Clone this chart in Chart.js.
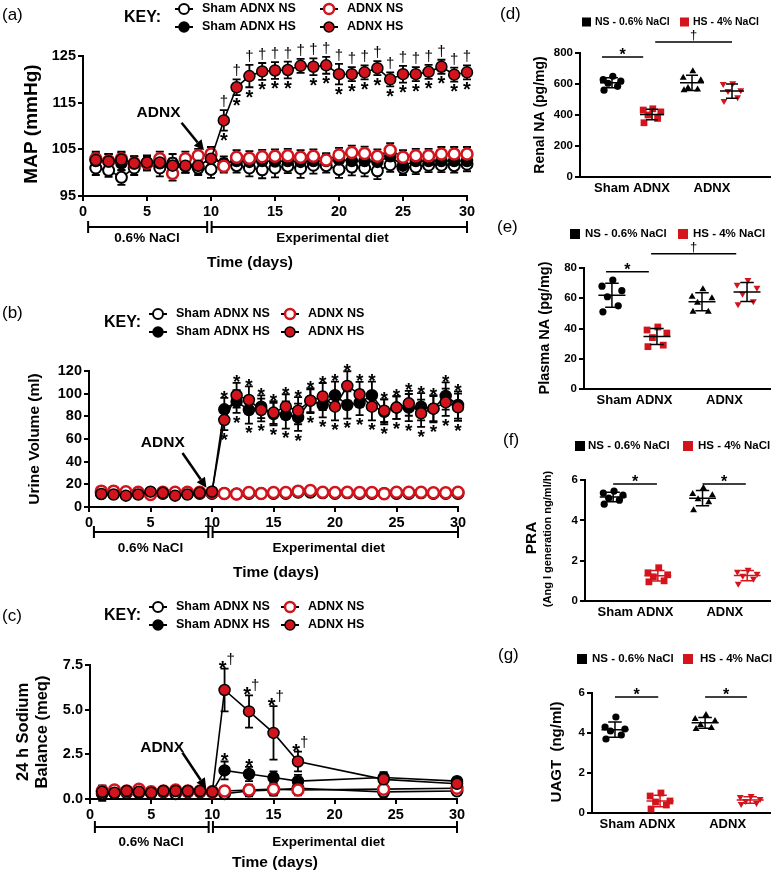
<!DOCTYPE html>
<html>
<head>
<meta charset="utf-8">
<script src="https://cdn.jsdelivr.net/npm/chart.js@4.4.0/dist/chart.umd.min.js"></script>
<style>
body { margin: 0; background: #fff; }
#wrap { position: relative; width: 775px; height: 880px; overflow: hidden; }
canvas { position: absolute; }
</style>
</head>
<body>
<div id="wrap">
  <canvas id="chartA" width="480" height="280" style="left:0;top:0"></canvas>
  <canvas id="chartB" width="480" height="300" style="left:0;top:280px"></canvas>
  <canvas id="chartC" width="480" height="300" style="left:0;top:580px"></canvas>
  <canvas id="chartD" width="295" height="200" style="left:480px;top:0"></canvas>
  <canvas id="chartE" width="295" height="210" style="left:480px;top:200px"></canvas>
  <canvas id="chartF" width="295" height="230" style="left:480px;top:410px"></canvas>
  <canvas id="chartG" width="295" height="240" style="left:480px;top:640px"></canvas>
</div>
<script>
// ============================================
// DATA - time course panels (a)-(c)
// ============================================
const seriesNames = ['Sham ADNX NS', 'Sham ADNX HS', 'ADNX NS', 'ADNX HS'];
const timeTicks = [0, 5, 10, 15, 20, 25, 30];
const dietLabels = ['0.6% NaCl', 'Experimental diet'];

const days = [1, 2, 3, 4, 5, 6, 7, 8, 9, 10, 11, 12, 13, 14, 15, 16, 17, 18, 19, 20, 21, 22, 23, 24, 25, 26, 27, 28, 29, 30];

// (a) MAP (mmHg)
const mapTicks = [95, 105, 115, 125];
const mapShamNS = [101, 100.5, 99, 101, 102, 101, 102, 101.5, 101, 100.7, 101.5, 101.5, 101, 100.6, 101, 101.4, 100.9, 101.6, 101.5, 100.7, 101.2, 101, 100.4, 101.7, 101, 101.2, 101.6, 101.6, 101.5, 101.8];
const mapShamNSErr = [1.5, 1.4, 1.6, 1.5, 1.4, 1.8, 2, 1.5, 1.5, 1.8, 1.5, 1.5, 1.8, 1.8, 2, 1.5, 2, 1.8, 1.5, 1.8, 1.8, 1.8, 1.8, 1.5, 1.5, 1.5, 1.5, 1.5, 1.5, 1.5];
const mapShamHS = [102.5, 102.5, 102, 102, 102, 102, 101.5, 101.5, 101.5, 103, 102, 102.5, 102.3, 102.5, 102.4, 102.5, 102.3, 102.5, 102.5, 102.8, 102.5, 102.5, 102.3, 103.5, 101.5, 102.5, 102.5, 102.5, 102.5, 102.5];
const mapShamHSErr = [1.5, 1.5, 1.5, 1.5, 1.5, 1.5, 1.5, 1.5, 1.5, 1.5, 1.5, 1.5, 1.5, 1.5, 1.5, 1.5, 1.5, 1.5, 1.5, 1.5, 1.5, 1.5, 1.5, 1.5, 1.5, 1.5, 1.5, 1.5, 1.5, 1.5];
const mapAdnxNS = [103, 102.5, 103, 102, 102, 103, 99.8, 103, 103.6, 104, 101.4, 103.3, 103.1, 103.4, 103.5, 103.6, 103.3, 103.5, 102.7, 103.8, 104.3, 104.1, 103.5, 104.8, 103.3, 103.6, 103.6, 104, 104, 104];
const mapAdnxNSErr = [1.5, 1.5, 1.5, 1.5, 1.5, 1.5, 1.5, 1.5, 1.5, 1.5, 1, 1.5, 1.5, 1.5, 1.5, 1.5, 1.5, 1.5, 1.5, 1.5, 1.5, 1.5, 1.5, 1.5, 1.5, 1.5, 1.5, 1.5, 1.5, 1.5];
const mapAdnxHS = [102.7, 102.4, 102.8, 102, 102.2, 102.2, 101.5, 101.5, 101.5, 103, 111.2, 118.3, 120.7, 121.7, 121.9, 122, 122.9, 122.7, 123, 121.1, 121.1, 121.5, 122.4, 120, 121.1, 121.1, 121.6, 122.7, 121, 121.5];
const mapAdnxHSErr = [1.5, 1.5, 1.5, 1.5, 1.5, 1.5, 1.5, 1.5, 1.5, 1.5, 2.2, 1.7, 2.4, 1.8, 1.8, 1.8, 1.5, 1.8, 1.8, 2.2, 1.5, 1.5, 1.5, 1.5, 1.8, 1.5, 1.5, 1.5, 1.5, 1.5];
const mapDaggerDays = [11, 12, 13, 14, 15, 16, 17, 18, 19, 20, 21, 22, 23, 24, 25, 26, 27, 28, 29, 30];
const mapStarDays = [11, 12, 13, 14, 15, 16, 18, 19, 20, 21, 22, 23, 24, 25, 26, 27, 28, 29, 30];

// (b) Urine volume (ml)
const uvTicks = [0, 20, 40, 60, 80, 100, 120];
const uvShamNS = [12, 12, 12, 12, 12, 12, 12, 12, 12, 12, 12, 11.5, 12, 12, 12, 12, 13, 13, 12.5, 12, 12.5, 12, 12, 12, 12, 12, 12.5, 12, 12, 12];
const uvShamNSErr = [1.5, 1.5, 1.5, 1.5, 1.5, 1.5, 1.5, 1.5, 1.5, 1.5, 1.5, 1.5, 1.5, 1.5, 1.5, 1.5, 1.5, 1.5, 1.5, 1.5, 1.5, 1.5, 1.5, 1.5, 1.5, 1.5, 1.5, 1.5, 1.5, 1.5];
const uvShamHS = [12, 12, 11, 12, 13, 13, 11, 12, 13, 13, 86.2, 93, 85.6, 88.5, 82, 81.2, 79.2, 93.8, 90, 98.6, 90, 92, 98.6, 84, 87.7, 87.7, 88.5, 86.8, 98, 90];
const uvShamHSErr = [1.5, 1.5, 1.5, 1.5, 1.5, 1.5, 1.5, 1.5, 1.5, 1.5, 10, 10, 12, 10, 10, 12, 12, 10, 11, 12, 12, 11, 12, 11, 10, 12, 12, 12, 12, 12];
const uvAdnxNS = [14, 14, 13.5, 13, 11, 13, 13, 13, 13, 13, 12, 11.5, 12.8, 12, 12.8, 12.8, 14, 14.5, 13, 12.8, 13, 12.8, 12.8, 11.8, 13, 13, 13, 12.5, 12.5, 13];
const uvAdnxNSErr = [1.5, 1.5, 1.5, 1.5, 1.5, 1.5, 1.5, 1.5, 1.5, 1.5, 1.5, 1.5, 1.5, 1.5, 1.5, 1.5, 1.5, 1.5, 1.5, 1.5, 1.5, 1.5, 1.5, 1.5, 1.5, 1.5, 1.5, 1.5, 1.5, 1.5];
const uvAdnxHS = [11.5, 11, 10, 11, 13.5, 12.5, 10, 11, 12.5, 13.5, 76.8, 98.6, 94.4, 85.6, 83.3, 88.5, 85, 93.8, 97.4, 88.5, 106.8, 99.4, 88.5, 85, 87.7, 91.5, 82.7, 86.8, 92.4, 88];
const uvAdnxHSErr = [1.5, 1.5, 1.5, 1.5, 1.5, 1.5, 1.5, 1.5, 1.5, 1.5, 9, 11, 12, 10, 10, 11, 12, 11, 12, 12, 13, 11, 12, 10, 10, 11, 12, 11, 12, 12];
const uvStarDays = [11, 12, 13, 14, 15, 16, 17, 18, 19, 20, 21, 22, 23, 24, 25, 26, 27, 28, 29, 30];

// (c) 24 h sodium balance (meq)
const naTicks = [0, 2.5, 5, 7.5];
const naDays = [1, 2, 3, 4, 5, 6, 7, 8, 9, 10, 11, 13, 15, 17, 24, 30];
const naShamNS = [0.3, 0.35, 0.35, 0.35, 0.35, 0.4, 0.3, 0.4, 0.4, 0.4, 0.3, 0.45, 0.5, 0.6, 0.4, 0.45];
const naShamNSErr = [0.4, 0.2, 0.2, 0.2, 0.2, 0.2, 0.2, 0.2, 0.2, 0.15, 0.2, 0.3, 0.3, 0.3, 0.35, 0.2];
const naShamHS = [0.4, 0.35, 0.45, 0.4, 0.35, 0.45, 0.45, 0.45, 0.45, 0.4, 1.6, 1.4, 1.2, 1.0, 1.2, 1.0];
const naShamHSErr = [0.35, 0.2, 0.2, 0.2, 0.2, 0.2, 0.2, 0.2, 0.2, 0.15, 0.5, 0.4, 0.35, 0.35, 0.3, 0.2];
const naAdnxNS = [0.45, 0.5, 0.45, 0.55, 0.4, 0.45, 0.5, 0.45, 0.45, 0.4, 0.45, 0.5, 0.55, 0.5, 0.55, 0.6];
const naAdnxNSErr = [0.2, 0.2, 0.2, 0.2, 0.2, 0.2, 0.2, 0.2, 0.2, 0.15, 0.2, 0.3, 0.35, 0.3, 0.3, 0.2];
const naAdnxHS = [0.4, 0.35, 0.45, 0.4, 0.35, 0.45, 0.45, 0.45, 0.45, 0.4, 6.1, 4.9, 3.7, 2.1, 1.1, 0.85];
const naAdnxHSErr = [0.35, 0.2, 0.2, 0.2, 0.2, 0.2, 0.2, 0.2, 0.2, 0.15, 1.2, 0.9, 1.5, 0.55, 0.33, 0.25];
const naBothDays = [11, 13, 15, 17];
const naShamStarDays = [11, 13];

// ============================================
// DATA - dot plots (d)-(g)
// ============================================
const catLabels = ['Sham ADNX', 'ADNX'];
const dietKey = ['NS - 0.6% NaCl', 'HS - 4% NaCl'];

const renalTicks = [0, 200, 400, 600, 800];
const renalShamNS = [650, 628, 618, 605, 585, 560];
const renalShamHS = [440, 432, 420, 400, 378, 350];
const renalAdnxNS = [682, 640, 625, 575, 565, 560];
const renalAdnxHS = [605, 600, 560, 555, 515, 490];

const plasmaTicks = [0, 20, 40, 60, 80];
const plasmaShamNS = [72, 68, 65, 61, 55, 51];
const plasmaShamHS = [41, 39, 37, 34, 29, 28];
const plasmaAdnxNS = [66, 61, 60, 57, 51, 51];
const plasmaAdnxHS = [72, 69, 67, 63, 58, 56];

const praTicks = [0, 2, 4, 6];
const praShamNS = [5.45, 5.35, 5.25, 5.1, 5.0, 4.8];
const praShamHS = [1.65, 1.4, 1.3, 1.2, 1.0, 0.95];
const praAdnxNS = [5.6, 5.3, 5.25, 5.05, 4.9, 4.5];
const praAdnxHS = [1.55, 1.45, 1.35, 1.25, 1.1, 0.85];

const uagtTicks = [0, 2, 4, 6];
const uagtShamNS = [4.8, 4.3, 4.2, 4.1, 3.9, 3.7];
const uagtShamHS = [1.0, 0.85, 0.6, 0.55, 0.4, 0.2];
const uagtAdnxNS = [4.9, 4.7, 4.6, 4.4, 4.25, 4.2];
const uagtAdnxHS = [0.85, 0.8, 0.7, 0.6, 0.5, 0.45];

// ============================================
// STYLE / LAYOUT
// ============================================
const FONT = '"Liberation Sans", Arial, Helvetica, sans-serif';
const RED = '#d3141c';
const groupPos = [1, 2, 3, 4];
const JITTER = [0.02, -0.22, 0.22, -0.1, 0.14, -0.2];
const dietSpans = [[0.4, 9.7], [10.05, 30]];
const dietLabelAt = [5, 19.5];

Chart.defaults.font.family = FONT;
Chart.defaults.color = '#000';
Chart.defaults.animation = false;
Chart.defaults.plugins.legend.display = false;
Chart.defaults.plugins.tooltip.enabled = false;

const STYLES = {
    shamNS: { pointBackgroundColor: '#fff', pointBorderColor: '#000', pointBorderWidth: 2 },
    shamHS: { pointBackgroundColor: '#000', pointBorderColor: '#000', pointBorderWidth: 1.5 },
    adnxNS: { pointBackgroundColor: '#fff', pointBorderColor: RED, pointBorderWidth: 2.5 },
    adnxHS: { pointBackgroundColor: RED, pointBorderColor: '#000', pointBorderWidth: 1.5 }
};
const keyStyles = ['shamNS', 'shamHS', 'adnxNS', 'adnxHS'];

function txt(ctx, s, x, y, opt) {
    opt = opt || {};
    ctx.save();
    ctx.font = (opt.weight || 'bold') + ' ' + (opt.size || 13) + 'px ' + FONT;
    ctx.fillStyle = opt.color || '#000';
    ctx.textAlign = opt.align || 'center';
    ctx.textBaseline = opt.baseline || 'middle';
    ctx.translate(x, y);
    if (opt.rotate) ctx.rotate(opt.rotate);
    ctx.fillText(s, 0, 0);
    ctx.restore();
}

// star placed above (glyph bottom ~2px over y) or below (glyph top ~2px under y)
function starAbove(ctx, x, y, size, align) {
    txt(ctx, '*', x, y - 2 + 0.4 * size, { size: size, baseline: 'alphabetic', align: align });
}
function starBelow(ctx, x, y, size) {
    txt(ctx, '*', x, y + 2 + 0.72 * size, { size: size, baseline: 'alphabetic' });
}

function arrow(ctx, x1, y1, x2, y2) {
    const ang = Math.atan2(y2 - y1, x2 - x1), hl = 10, hw = 5;
    const bx = x2 - hl * Math.cos(ang), by = y2 - hl * Math.sin(ang);
    ctx.save();
    ctx.strokeStyle = '#000'; ctx.fillStyle = '#000'; ctx.lineWidth = 2.5;
    ctx.beginPath(); ctx.moveTo(x1, y1); ctx.lineTo(bx, by); ctx.stroke();
    ctx.beginPath();
    ctx.moveTo(x2, y2);
    ctx.lineTo(bx + hw * Math.sin(ang), by - hw * Math.cos(ang));
    ctx.lineTo(bx - hw * Math.sin(ang), by + hw * Math.cos(ang));
    ctx.closePath(); ctx.fill();
    ctx.restore();
}

function drawKey(ctx, k) {
    txt(ctx, 'KEY:', k.x, k.y, { size: 16, align: 'left' });
    seriesNames.forEach((name, i) => {
        const mx = i < 2 ? k.col[0] : k.col[1];
        const my = i % 2 === 0 ? k.row[0] : k.row[1];
        const st = STYLES[keyStyles[i]];
        ctx.save();
        ctx.strokeStyle = '#000'; ctx.lineWidth = 2;
        ctx.beginPath(); ctx.moveTo(mx - 9, my); ctx.lineTo(mx + 9, my); ctx.stroke();
        ctx.beginPath(); ctx.arc(mx, my, 5, 0, Math.PI * 2);
        ctx.fillStyle = st.pointBackgroundColor; ctx.fill();
        ctx.lineWidth = st.pointBorderWidth; ctx.strokeStyle = st.pointBorderColor; ctx.stroke();
        ctx.restore();
        txt(ctx, name, mx + 18, my, { size: 12.5, align: 'left' });
    });
}

// error bars for time course
const errorBars = {
    id: 'errorBars',
    beforeDatasetsDraw(chart) {
        const ctx = chart.ctx, xs = chart.scales.x, ys = chart.scales.y;
        chart.data.datasets.forEach(ds => {
            if (!ds.errors) return;
            ctx.save();
            ctx.strokeStyle = '#000'; ctx.lineWidth = 1.8;
            ds.data.forEach((p, j) => {
                const e = ds.errors[j];
                const x = xs.getPixelForValue(p.x);
                const y1 = ys.getPixelForValue(p.y + e), y2 = ys.getPixelForValue(p.y - e);
                ctx.beginPath();
                ctx.moveTo(x, y1); ctx.lineTo(x, y2);
                ctx.moveTo(x - 4, y1); ctx.lineTo(x + 4, y1);
                ctx.moveTo(x - 4, y2); ctx.lineTo(x + 4, y2);
                ctx.stroke();
            });
            ctx.restore();
        });
    }
};

function axisCommon(ticks, fmt, size) {
    return {
        afterBuildTicks: s => { s.ticks = ticks.map(v => ({ value: v })); },
        ticks: { font: { size: size, weight: 'bold' }, color: '#000', padding: 2, callback: fmt },
        grid: { drawOnChartArea: false, color: '#000', lineWidth: 2, tickLength: 5 },
        border: { color: '#000', width: 2 }
    };
}

function timeChart(id, cfg) {
    const cv = document.getElementById(id);
    const W = cv.width, H = cv.height, box = cfg.box;
    const mk = (xv, yv, ev, st) => Object.assign({
        data: xv.map((x, i) => ({ x: x, y: yv[i] })),
        errors: ev,
        borderColor: '#000', borderWidth: 1.6, pointRadius: 5.5, clip: false, tension: 0
    }, STYLES[st]);
    const s = cfg.series;
    const x = Object.assign({ type: 'linear', min: 0, max: 30, afterFit: sc => { sc.height = H - box.bottom; } },
        axisCommon(timeTicks, v => String(v), 14.5));
    const y = Object.assign({ type: 'linear', min: cfg.yTicks[0], max: cfg.yTicks[cfg.yTicks.length - 1], afterFit: sc => { sc.width = box.left; } },
        axisCommon(cfg.yTicks, cfg.yFmt, 14.5));
    return new Chart(cv, {
        type: 'line',
        data: { datasets: [
            mk(cfg.xs, s.adnxHS[0], s.adnxHS[1], 'adnxHS'),
            mk(cfg.xs, s.adnxNS[0], s.adnxNS[1], 'adnxNS'),
            mk(cfg.xs, s.shamHS[0], s.shamHS[1], 'shamHS'),
            mk(cfg.xs, s.shamNS[0], s.shamNS[1], 'shamNS')
        ] },
        options: {
            responsive: false,
            layout: { padding: { left: 0, right: W - box.right, top: box.top, bottom: 0 } },
            scales: { x: x, y: y }
        },
        plugins: [errorBars, { id: 'decor', afterDraw: c => timeDecor(c, cfg) }]
    });
}

function timeDecor(c, d) {
    const ctx = c.ctx, xs = c.scales.x, ys = c.scales.y, ca = c.chartArea;
    txt(ctx, d.letter, d.letterPos[0], d.letterPos[1], { weight: 'normal', size: 17, align: 'left' });
    drawKey(ctx, d.key);
    d.yTitle.forEach((t, i) => txt(ctx, t, d.yTitleX[i], d.yTitleY, { size: d.yTitleSize, rotate: -Math.PI / 2 }));
    const yb = ca.bottom + d.off[0];
    ctx.save();
    ctx.strokeStyle = '#000'; ctx.lineWidth = 2;
    dietSpans.forEach(sp => {
        const x1 = xs.getPixelForValue(sp[0]), x2 = xs.getPixelForValue(sp[1]);
        ctx.beginPath();
        ctx.moveTo(x1, yb); ctx.lineTo(x2, yb);
        ctx.moveTo(x1, yb - 6); ctx.lineTo(x1, yb + 6);
        ctx.moveTo(x2, yb - 6); ctx.lineTo(x2, yb + 6);
        ctx.stroke();
    });
    ctx.restore();
    dietLabels.forEach((t, i) => txt(ctx, t, xs.getPixelForValue(dietLabelAt[i]), ca.bottom + d.off[1], { size: 13.5 }));
    txt(ctx, 'Time (days)', d.timeX, ca.bottom + d.off[2], { size: 15.5 });
    const a = d.adnx;
    txt(ctx, 'ADNX', xs.getPixelForValue(a.text[0]), ys.getPixelForValue(a.text[1]), { size: 15.5 });
    arrow(ctx, xs.getPixelForValue(a.tail[0]), ys.getPixelForValue(a.tail[1]),
        xs.getPixelForValue(a.tip[0]), ys.getPixelForValue(a.tip[1]));
    if (d.marks) d.marks(ctx, xs, ys);
}

// ============================================
// PANEL (a)
// ============================================
timeChart('chartA', {
    box: { left: 83, right: 467, top: 56, bottom: 196 },
    xs: days, yTicks: mapTicks, yFmt: v => String(v),
    series: {
        shamNS: [mapShamNS, mapShamNSErr], shamHS: [mapShamHS, mapShamHSErr],
        adnxNS: [mapAdnxNS, mapAdnxNSErr], adnxHS: [mapAdnxHS, mapAdnxHSErr]
    },
    letter: '(a)', letterPos: [2, 15],
    key: { x: 124, y: 18, col: [184, 329], row: [9, 27] },
    yTitle: ['MAP (mmHg)'], yTitleX: [32], yTitleY: 124, yTitleSize: 19,
    off: [31, 42, 67], timeX: 250,
    adnx: { text: [5.9, 112.9], tail: [7.7, 110.7], tip: [9.45, 104.8] },
    marks: (ctx, xs, ys) => {
        mapDaggerDays.forEach(d => {
            const i = days.indexOf(d);
            txt(ctx, '†', xs.getPixelForValue(d), ys.getPixelForValue(mapAdnxHS[i] + mapAdnxHSErr[i]) - 4,
                { weight: 'normal', size: 15, baseline: 'alphabetic' });
        });
        mapStarDays.forEach(d => {
            const i = days.indexOf(d);
            starBelow(ctx, xs.getPixelForValue(d), ys.getPixelForValue(mapAdnxHS[i] - mapAdnxHSErr[i]), 20);
        });
    }
});

// ============================================
// PANEL (b)
// ============================================
timeChart('chartB', {
    box: { left: 89, right: 458, top: 91, bottom: 227 },
    xs: days, yTicks: uvTicks, yFmt: v => String(v),
    series: {
        shamNS: [uvShamNS, uvShamNSErr], shamHS: [uvShamHS, uvShamHSErr],
        adnxNS: [uvAdnxNS, uvAdnxNSErr], adnxHS: [uvAdnxHS, uvAdnxHSErr]
    },
    letter: '(b)', letterPos: [2, 33],
    key: { x: 104, y: 43, col: [158, 290], row: [34, 52] },
    yTitle: ['Urine Volume (ml)'], yTitleX: [35], yTitleY: 159, yTitleSize: 15.5,
    off: [25, 41, 66], timeX: 276,
    adnx: { text: [6.0, 56.5], tail: [7.6, 47.7], tip: [9.55, 17] },
    marks: (ctx, xs, ys) => {
        uvStarDays.forEach(d => {
            const i = days.indexOf(d);
            const top = Math.max(uvShamHS[i] + uvShamHSErr[i], uvAdnxHS[i] + uvAdnxHSErr[i]);
            const bot = Math.min(uvShamHS[i] - uvShamHSErr[i], uvAdnxHS[i] - uvAdnxHSErr[i]);
            starAbove(ctx, xs.getPixelForValue(d), ys.getPixelForValue(top), 19);
            starBelow(ctx, xs.getPixelForValue(d), ys.getPixelForValue(bot), 19);
        });
    }
});

// ============================================
// PANEL (c)
// ============================================
timeChart('chartC', {
    box: { left: 90, right: 457, top: 85, bottom: 219 },
    xs: naDays, yTicks: naTicks, yFmt: v => v.toFixed(1),
    series: {
        shamNS: [naShamNS, naShamNSErr], shamHS: [naShamHS, naShamHSErr],
        adnxNS: [naAdnxNS, naAdnxNSErr], adnxHS: [naAdnxHS, naAdnxHSErr]
    },
    letter: '(c)', letterPos: [2, 36],
    key: { x: 104, y: 36, col: [158, 290], row: [27, 45] },
    yTitle: ['24 h Sodium', 'Balance (meq)'], yTitleX: [23, 42], yTitleY: 152, yTitleSize: 16.5,
    off: [28, 43, 64], timeX: 275,
    adnx: { text: [5.9, 2.85], tail: [7.55, 2.6], tip: [9.5, 0.6] },
    marks: (ctx, xs, ys) => {
        naBothDays.forEach(d => {
            const i = naDays.indexOf(d);
            const x = xs.getPixelForValue(d), y = ys.getPixelForValue(naAdnxHS[i] + naAdnxHSErr[i]);
            starAbove(ctx, x + 2, y, 20, 'right');
            txt(ctx, '†', x + 2, y - 5, { weight: 'normal', size: 15, align: 'left', baseline: 'alphabetic' });
        });
        naShamStarDays.forEach(d => {
            const i = naDays.indexOf(d);
            starAbove(ctx, xs.getPixelForValue(d), ys.getPixelForValue(naShamHS[i] + naShamHSErr[i]), 20);
        });
    }
});

// ============================================
// DOT PLOTS
// ============================================
const DOT = [
    { shape: 'circle', rot: 0, r: 3.6, color: '#000' },
    { shape: 'rect', rot: 0, r: 4.8, color: RED },
    { shape: 'triangle', rot: 0, r: 4, color: '#000' },
    { shape: 'triangle', rot: 180, r: 4, color: RED }
];

const meanSd = {
    id: 'meanSd',
    afterDatasetsDraw(c) {
        const ctx = c.ctx, xs = c.scales.x, ys = c.scales.y;
        c.data.datasets.forEach((ds, g) => {
            const v = ds.data.map(p => p.y);
            const m = v.reduce((a, b) => a + b, 0) / v.length;
            const sd = Math.sqrt(v.reduce((a, b) => a + (b - m) * (b - m), 0) / (v.length - 1));
            const xc = xs.getPixelForValue(groupPos[g]);
            const half = xs.getPixelForValue(groupPos[g] + 0.3) - xc;
            const cap = half / 2;
            const ym = ys.getPixelForValue(m), y1 = ys.getPixelForValue(m + sd), y2 = ys.getPixelForValue(m - sd);
            ctx.save();
            ctx.strokeStyle = ds.lineColor; ctx.lineWidth = 1.5;
            ctx.beginPath();
            ctx.moveTo(xc - half, ym); ctx.lineTo(xc + half, ym);
            ctx.moveTo(xc, y1); ctx.lineTo(xc, y2);
            ctx.moveTo(xc - cap, y1); ctx.lineTo(xc + cap, y1);
            ctx.moveTo(xc - cap, y2); ctx.lineTo(xc + cap, y2);
            ctx.stroke();
            ctx.restore();
        });
    }
};

function dotChart(id, cfg) {
    const cv = document.getElementById(id);
    const W = cv.width, H = cv.height, box = cfg.box;
    const datasets = cfg.groups.map((vals, g) => ({
        data: vals.map((v, i) => ({ x: groupPos[g] + JITTER[i % JITTER.length], y: v })),
        pointStyle: DOT[g].shape, rotation: DOT[g].rot, pointRadius: DOT[g].r,
        backgroundColor: DOT[g].color, borderColor: DOT[g].color, borderWidth: 0,
        lineColor: cfg.lineColors[g], clip: false
    }));
    const y = Object.assign({ type: 'linear', min: cfg.yTicks[0], max: cfg.yTicks[cfg.yTicks.length - 1], afterFit: sc => { sc.width = box.left; } },
        axisCommon(cfg.yTicks, v => String(v), 11.5));
    const x = {
        type: 'linear', min: cfg.xRange[0], max: cfg.xRange[1],
        afterBuildTicks: s => { s.ticks = [{ value: 1.5 }, { value: 3.5 }]; },
        ticks: { font: { size: 13, weight: 'bold' }, color: '#000', padding: 4, callback: (v, i) => catLabels[i] },
        grid: { display: false, drawTicks: false },
        border: { color: '#000', width: 2 },
        afterFit: sc => { sc.height = H - box.bottom; }
    };
    return new Chart(cv, {
        type: 'scatter',
        data: { datasets: datasets },
        options: {
            responsive: false,
            layout: { padding: { left: 0, right: W - box.right, top: box.top, bottom: 0 } },
            scales: { x: x, y: y }
        },
        plugins: [meanSd, { id: 'decor', afterDraw: c => dotDecor(c, cfg) }]
    });
}

function dotDecor(c, d) {
    const ctx = c.ctx, xs = c.scales.x, ys = c.scales.y;
    txt(ctx, d.letter, d.letterPos[0], d.letterPos[1], { weight: 'normal', size: 17, align: 'left' });
    const k = d.key;
    [['#000', k.sq[0], k.tx[0]], [RED, k.sq[1], k.tx[1]]].forEach((e, i) => {
        ctx.fillStyle = e[0];
        ctx.fillRect(e[1], k.y - k.s / 2, k.s, k.s);
        txt(ctx, dietKey[i], e[2], k.y, { size: k.size, align: 'left' });
    });
    d.yTitle.forEach(t => txt(ctx, t.text, t.x, t.y, { size: t.size, rotate: -Math.PI / 2 }));
    d.sig.forEach(s => {
        const x1 = xs.getPixelForValue(s.x1), x2 = xs.getPixelForValue(s.x2), y = ys.getPixelForValue(s.y);
        ctx.save();
        ctx.strokeStyle = '#000'; ctx.lineWidth = 1.5;
        ctx.beginPath(); ctx.moveTo(x1, y); ctx.lineTo(x2, y); ctx.stroke();
        ctx.restore();
        if (s.t === '*') starAbove(ctx, (x1 + x2) / 2, y - 1, 16);
        else txt(ctx, '†', (x1 + x2) / 2, y - 3, { weight: 'normal', size: 13, baseline: 'alphabetic' });
    });
}

// (d) Renal NA
dotChart('chartD', {
    box: { left: 100, right: 290, top: 53, bottom: 177 }, xRange: [0.2, 4.95],
    yTicks: renalTicks, groups: [renalShamNS, renalShamHS, renalAdnxNS, renalAdnxHS],
    lineColors: ['#000', '#000', '#000', '#000'],
    letter: '(d)', letterPos: [20, 14],
    key: { y: 22, s: 9, sq: [102, 200], tx: [115, 213], size: 10.5 },
    yTitle: [{ text: 'Renal NA (pg/mg)', x: 60, y: 115, size: 14 }],
    sig: [{ x1: 0.75, x2: 1.78, y: 774, t: '*' }, { x1: 2.08, x2: 4.0, y: 871, t: '†' }]
});

// (e) Plasma NA
dotChart('chartE', {
    box: { left: 104, right: 290, top: 68, bottom: 189 }, xRange: [0.38, 4.51],
    yTicks: plasmaTicks, groups: [plasmaShamNS, plasmaShamHS, plasmaAdnxNS, plasmaAdnxHS],
    lineColors: ['#000', '#000', '#000', '#000'],
    letter: '(e)', letterPos: [17, 27],
    key: { y: 34, s: 10, sq: [90, 198], tx: [105, 213], size: 11.5 },
    yTitle: [{ text: 'Plasma NA (pg/mg)', x: 65, y: 128, size: 14.5 }],
    sig: [{ x1: 0.87, x2: 1.82, y: 77.5, t: '*' }, { x1: 1.87, x2: 3.76, y: 89.4, t: '†' }]
});

// (f) PRA
dotChart('chartF', {
    box: { left: 105, right: 290, top: 70, bottom: 191 }, xRange: [0.37, 4.51],
    yTicks: praTicks, groups: [praShamNS, praShamHS, praAdnxNS, praAdnxHS],
    lineColors: ['#000', RED, '#000', RED],
    letter: '(f)', letterPos: [23, 30],
    key: { y: 36, s: 10, sq: [95, 203], tx: [108, 218], size: 11.5 },
    yTitle: [{ text: 'PRA', x: 52, y: 128, size: 15.5 }, { text: '(Ang I generation ng/ml/h)', x: 68, y: 129, size: 11 }],
    sig: [{ x1: 1.0, x2: 1.98, y: 5.8, t: '*' }, { x1: 3.0, x2: 3.97, y: 5.8, t: '*' }]
});

// (g) UAGT
dotChart('chartG', {
    box: { left: 112, right: 290, top: 53, bottom: 173 }, xRange: [0.49, 4.44],
    yTicks: uagtTicks, groups: [uagtShamNS, uagtShamHS, uagtAdnxNS, uagtAdnxHS],
    lineColors: ['#000', RED, '#000', RED],
    letter: '(g)', letterPos: [18, 15],
    key: { y: 19, s: 10, sq: [97, 203], tx: [112, 220], size: 11.5 },
    yTitle: [{ text: 'UAGT  (ng/ml)', x: 77, y: 112, size: 15 }],
    sig: [{ x1: 1.0, x2: 1.96, y: 5.8, t: '*' }, { x1: 3.0, x2: 3.93, y: 5.8, t: '*' }]
});
</script>
</body>
</html>
